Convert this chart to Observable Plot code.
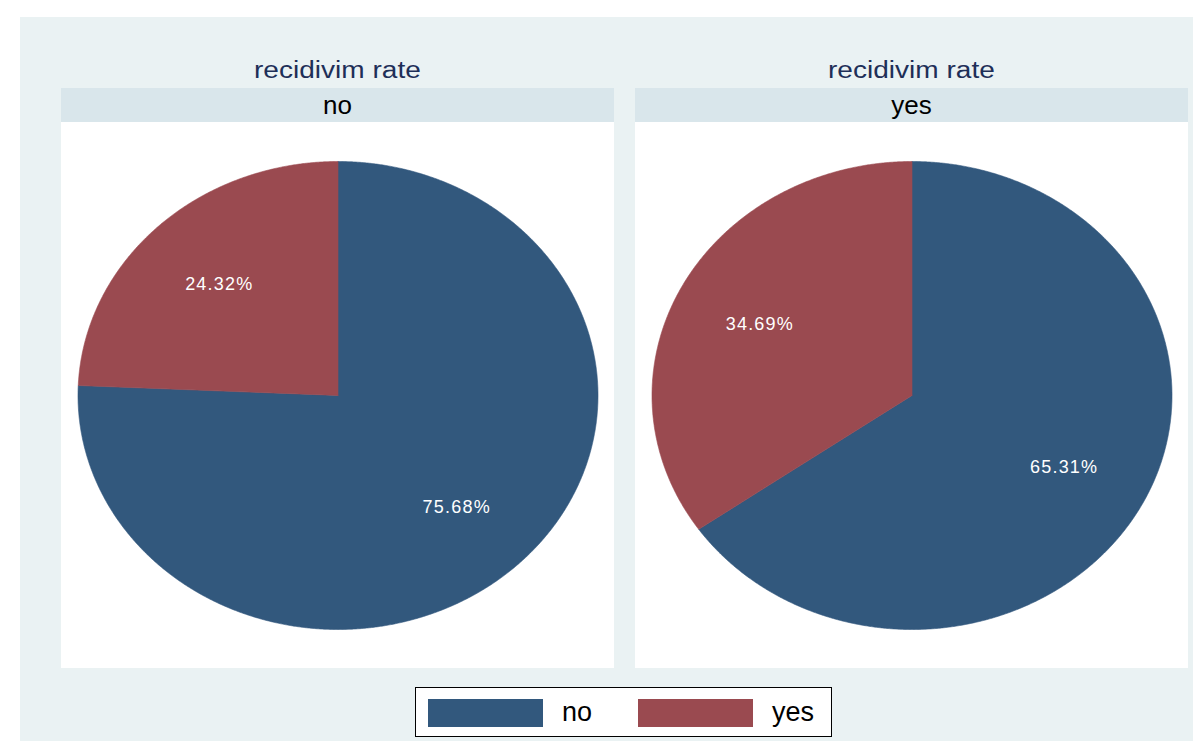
<!DOCTYPE html>
<html>
<head>
<meta charset="utf-8">
<script src="https://cdn.jsdelivr.net/npm/d3@7"></script>
<script src="https://cdn.jsdelivr.net/npm/@observablehq/plot@0.6"></script>
<style>
  html, body { margin: 0; padding: 0; background: #ffffff; }
  body { width: 1193px; height: 741px; position: relative; overflow: hidden;
         font-family: "Liberation Sans", Arial, Helvetica, sans-serif; }
  #bg { position: absolute; left: 20px; top: 17px; width: 1173px; height: 724px; background: #EAF2F3; }
  .title { position: absolute; top: 55px; height: 30px; width: 553px; text-align: center;
           font-size: 23px; color: #1E2F58; line-height: 30px; }
  .title span { display: inline-block; transform: scaleX(1.22); }
  .strip { position: absolute; top: 88px; height: 34px; width: 553px; background: #D9E6EB;
           text-align: center; font-size: 26px; line-height: 34px; color: #000; }
  .panel { position: absolute; top: 122px; width: 553px; height: 546px; background: #fff; }
  #legend { position: absolute; left: 415px; top: 687px; width: 415px; height: 48px;
            background: #fff; border: 1.5px solid #000; }
  .sw { position: absolute; top: 11px; width: 115px; height: 28px; }
  .lt { position: absolute; top: 7px; font-size: 27px; line-height: 34px; color: #000; }
</style>
</head>
<body>
<div id="bg"></div>
<div id="root"></div>
<div id="legend"></div>
<script>
// ---- data ----
const panelNames = ["no", "yes"];          // facet: recidivism rate group
const sliceCategories = ["no", "yes"];     // pie categories
const pctInPanelNo = [75.68, 24.32];       // shares in panel "no"
const pctInPanelYes = [65.31, 34.69];      // shares in panel "yes"
const titleText = "recidivim rate";

// ---- styles ----
const sliceColors = ["#32587D", "#9A4A50"];
const panelLefts = [61, 635];

const shares = [pctInPanelNo, pctInPanelYes];
const root = document.getElementById("root");

panelNames.forEach((pname, pi) => {
  const left = panelLefts[pi];
  const t = document.createElement("div");
  t.className = "title"; t.style.left = left + "px";
  t.innerHTML = `<span>${titleText}</span>`;
  document.body.appendChild(t);
  const s = document.createElement("div");
  s.className = "strip"; s.style.left = left + "px"; s.textContent = pname;
  document.body.appendChild(s);

  const values = shares[pi];
  const arcs = d3.pie().sort(null).startAngle(0).endAngle(2 * Math.PI)(values);
  // outline polygons of each slice in unit-circle coordinates (angle clockwise from top)
  const outline = [];
  const labels = [];
  arcs.forEach((a, i) => {
    const cat = sliceCategories[i];
    outline.push({cat, x: 0, y: 0});
    const n = Math.max(2, Math.ceil((a.endAngle - a.startAngle) / 0.005));
    for (let k = 0; k <= n; k++) {
      const th = a.startAngle + (a.endAngle - a.startAngle) * k / n;
      outline.push({cat, x: Math.sin(th), y: Math.cos(th)});
    }
    outline.push({cat, x: 0, y: 0});
    const mid = (a.startAngle + a.endAngle) / 2;
    labels.push({cat, x: 0.66 * Math.sin(mid), y: 0.66 * Math.cos(mid), text: values[i].toFixed(2) + "%"});
  });

  const marks = sliceCategories.map((cat, i) =>
    Plot.line(outline.filter(d => d.cat === cat), {
      x: "x", y: "y", fill: sliceColors[i], stroke: sliceColors[i], strokeWidth: 0.6, curve: "linear"
    })
  );
  marks.push(Plot.text(labels, {x: "x", y: "y", text: "text", fill: "white", fontSize: 18}));

  const W = 553, H = 546, rx = 260, ry = 234;
  const chart = Plot.plot({
    width: W, height: H,
    margin: 0,
    x: {domain: [-(W / 2) / rx, (W / 2) / rx], axis: null},
    y: {domain: [-(H / 2) / ry, (H / 2) / ry], axis: null},
    style: {background: "#ffffff", fontFamily: "'Liberation Sans', Arial, sans-serif", letterSpacing: "1.2px"},
    marks
  });
  const p = document.createElement("div");
  p.className = "panel"; p.style.left = left + "px";
  p.appendChild(chart);
  root.appendChild(p);
});

// legend
const legend = document.getElementById("legend");
const legendPos = [{sw: 12, tx: 146}, {sw: 222, tx: 356}];
sliceCategories.forEach((cat, i) => {
  const sw = document.createElement("div");
  sw.className = "sw"; sw.style.left = legendPos[i].sw + "px"; sw.style.background = sliceColors[i];
  legend.appendChild(sw);
  const lt = document.createElement("div");
  lt.className = "lt"; lt.style.left = legendPos[i].tx + "px"; lt.textContent = cat;
  legend.appendChild(lt);
});
</script>
</body>
</html>
